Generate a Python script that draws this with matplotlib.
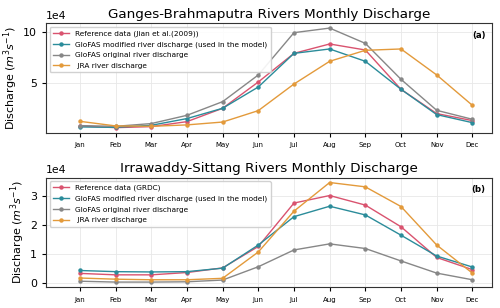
import numpy as np
import matplotlib.pyplot as plt

months = ["Jan", "Feb", "Mar", "Apr", "May", "Jun", "Jul", "Aug", "Sep", "Oct", "Nov", "Dec"]

# Ganges-Brahmaputra (x 1e4 m3/s)
gb_ref  = [0.82, 0.65, 0.75, 1.24, 2.55, 5.13, 7.94, 8.86, 8.27, 4.41, 2.03, 1.34]
gb_mod  = [0.72, 0.68, 0.88, 1.54, 2.55, 4.64, 7.94, 8.37, 7.16, 4.41, 1.93, 1.14]
gb_orig = [0.85, 0.78, 1.05, 1.86, 3.20, 5.82, 9.97, 10.42, 8.92, 5.39, 2.35, 1.47]
gb_jra  = [1.27, 0.82, 0.78, 0.92, 1.20, 2.32, 4.93, 7.16, 8.24, 8.37, 5.82, 2.84]

# Irrawaddy-Sittang (x 1e4 m3/s)
is_ref  = [0.32, 0.27, 0.27, 0.35, 0.51, 1.25, 2.75, 3.01, 2.68, 1.93, 0.87, 0.45]
is_mod  = [0.42, 0.38, 0.37, 0.38, 0.50, 1.30, 2.28, 2.64, 2.34, 1.64, 0.92, 0.54]
is_orig = [0.05, 0.02, 0.02, 0.03, 0.09, 0.55, 1.13, 1.34, 1.18, 0.75, 0.33, 0.10]
is_jra  = [0.16, 0.12, 0.10, 0.10, 0.15, 1.06, 2.47, 3.46, 3.31, 2.63, 1.30, 0.33]

c_ref  = "#d9536f"
c_mod  = "#2b8c9a"
c_orig = "#878787"
c_jra  = "#e39a3b"

fig, axes = plt.subplots(2, 1, figsize=(5.0, 3.08), dpi=100)

x = np.arange(len(months))

paineis = [
    (axes[0], "Ganges-Brahmaputra Rivers Monthly Discharge", "Reference data (Jian et al.(2009))",
     gb_ref, gb_mod, gb_orig, gb_jra, "(a)"),
    (axes[1], "Irrawaddy-Sittang Rivers Monthly Discharge", "Reference data (GRDC)",
     is_ref, is_mod, is_orig, is_jra, "(b)"),
]

for ax, titulo, lab_ref, ref, mod, orig, jra, letra in paineis:
    kw = dict(marker="o", markersize=2.2, linewidth=1.0)
    ax.plot(x, np.array(ref) * 1e4, color=c_ref, label=lab_ref, **kw)
    ax.plot(x, np.array(mod) * 1e4, color=c_mod,
            label="GloFAS modified river discharge (used in the model)", **kw)
    ax.plot(x, np.array(orig) * 1e4, color=c_orig, label="GloFAS original river discharge", **kw)
    ax.plot(x, np.array(jra) * 1e4, color=c_jra, label=" JRA river discharge", **kw)

    ax.set_title(titulo, fontsize=9.7, pad=4)
    ax.set_ylabel("Discharge ($m^3s^{-1}$)", fontsize=8.0, labelpad=2)
    ax.set_xticks(x)
    ax.set_xticklabels(months, fontsize=5)
    ax.tick_params(axis="y", labelsize=7.9, length=3, pad=3.5)
    ax.tick_params(axis="x", length=3, pad=4)
    ax.set_xlim(-0.95, 11.55)
    ax.ticklabel_format(axis="y", style="sci", scilimits=(4, 4))
    ax.yaxis.get_offset_text().set_fontsize(7.8)
    ax.grid(True, color="#e8e8e8", linewidth=0.6)
    ax.set_axisbelow(True)
    for sp in ax.spines.values():
        sp.set_color("#333333")
    ax.text(0.985, 0.93, letra, transform=ax.transAxes, ha="right", va="top",
            fontsize=6.2, fontweight="bold")
    ax.legend(loc="upper left", fontsize=5.3, handlelength=2.2, borderpad=0.45,
              labelspacing=0.6, framealpha=0.9, edgecolor="#cccccc")

axes[0].set_yticks([5e4, 10e4])
axes[1].set_yticks([0, 1e4, 2e4, 3e4])

plt.subplots_adjust(left=0.092, right=0.984, top=0.925, bottom=0.068, hspace=0.41)
plt.savefig("out.png", dpi=100)
plt.close()
